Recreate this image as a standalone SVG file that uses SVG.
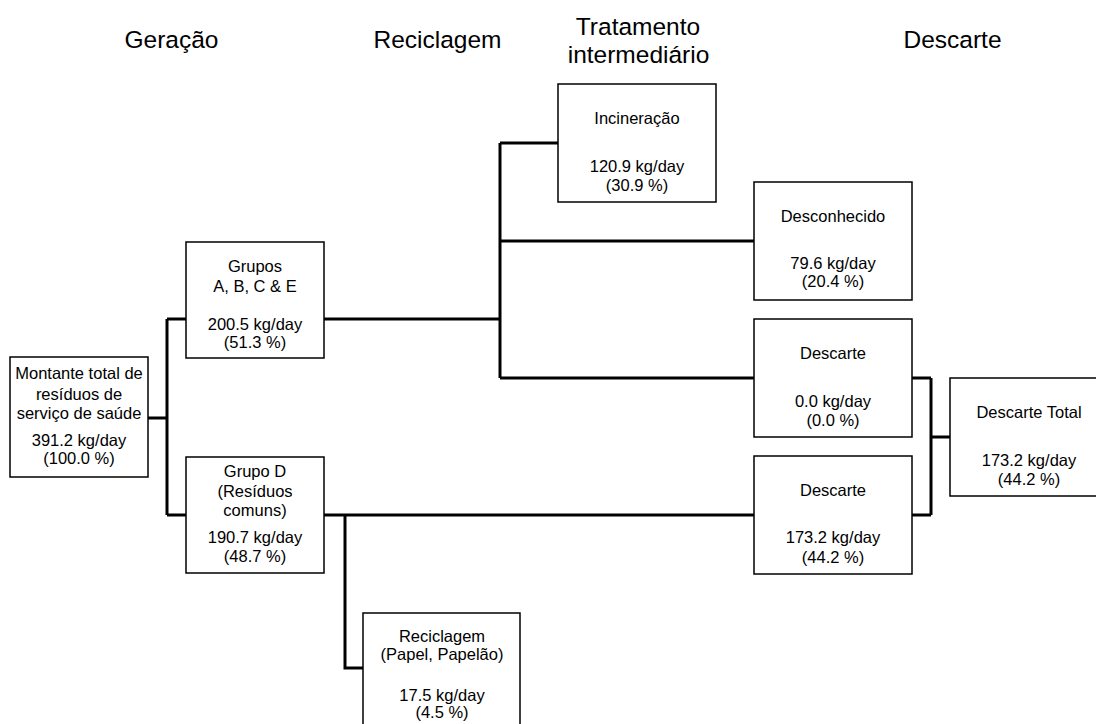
<svg xmlns="http://www.w3.org/2000/svg" width="1096" height="724" viewBox="0 0 1096 724">
<style>
.hdr{font-family:"Liberation Sans",Arial,sans-serif;font-size:24.5px;fill:#000;text-anchor:middle}
.t{font-family:"Liberation Sans",Arial,sans-serif;font-size:16.5px;fill:#000;text-anchor:middle}
.box{fill:#fff;stroke:#000;stroke-width:1.5}
.c{fill:none;stroke:#000;stroke-width:3}
</style>
<rect width="1096" height="724" fill="#fff"/>
<g id="headers">
<text class="hdr" x="171.5" y="48">Geração</text>
<text class="hdr" x="437.5" y="48">Reciclagem</text>
<text class="hdr" x="638" y="35">Tratamento</text>
<text class="hdr" x="638.5" y="63">intermediário</text>
<text class="hdr" x="952.5" y="48">Descarte</text>
</g>
<g id="connectors">
<path class="c" d="M148,418 H167 M167,319 V515 M167,319 H186 M167,515 H186"/>
<path class="c" d="M324,319 H500 M500,143 V378 M500,143 H558 M500,241 H754 M500,378 H754"/>
<path class="c" d="M324,515 H754 M345,515 V668 H363"/>
<path class="c" d="M912,378 H931 M912,515 H931 M931,378 V515 M931,437 H950"/>
</g>
<g id="montante">
<rect class="box" x="10" y="357" width="138" height="120"/>
<text class="t" x="79" y="379">Montante total de</text>
<text class="t" x="79" y="400">resíduos de</text>
<text class="t" x="79" y="419">serviço de saúde</text>
<text class="t" x="79" y="446">391.2 kg/day</text>
<text class="t" x="79" y="464">(100.0 %)</text>
</g>
<g id="gruposABCE">
<rect class="box" x="186" y="242" width="138" height="116"/>
<text class="t" x="255" y="272">Grupos</text>
<text class="t" x="255" y="292">A, B, C &amp; E</text>
<text class="t" x="255" y="330">200.5 kg/day</text>
<text class="t" x="255" y="348">(51.3 %)</text>
</g>
<g id="grupoD">
<rect class="box" x="186" y="457" width="138" height="116"/>
<text class="t" x="255" y="477">Grupo D</text>
<text class="t" x="255" y="497">(Resíduos</text>
<text class="t" x="255" y="516">comuns)</text>
<text class="t" x="255" y="543">190.7 kg/day</text>
<text class="t" x="255" y="562">(48.7 %)</text>
</g>
<g id="incineracao">
<rect class="box" x="558" y="84" width="158" height="118"/>
<text class="t" x="637" y="124">Incineração</text>
<text class="t" x="637" y="172">120.9 kg/day</text>
<text class="t" x="637" y="191">(30.9 %)</text>
</g>
<g id="desconhecido">
<rect class="box" x="754" y="182" width="158" height="118"/>
<text class="t" x="833" y="222">Desconhecido</text>
<text class="t" x="833" y="269">79.6 kg/day</text>
<text class="t" x="833" y="287">(20.4 %)</text>
</g>
<g id="descarte1">
<rect class="box" x="754" y="319" width="158" height="118"/>
<text class="t" x="833" y="359">Descarte</text>
<text class="t" x="833" y="407">0.0 kg/day</text>
<text class="t" x="833" y="426">(0.0 %)</text>
</g>
<g id="descarte2">
<rect class="box" x="754" y="456" width="158" height="118"/>
<text class="t" x="833" y="496">Descarte</text>
<text class="t" x="833" y="543">173.2 kg/day</text>
<text class="t" x="833" y="563">(44.2 %)</text>
</g>
<g id="descarteTotal">
<rect class="box" x="950" y="378" width="160" height="118"/>
<text class="t" x="1029" y="418">Descarte Total</text>
<text class="t" x="1029" y="466">173.2 kg/day</text>
<text class="t" x="1029" y="485">(44.2 %)</text>
</g>
<g id="reciclagem">
<rect class="box" x="363" y="613" width="157" height="125"/>
<text class="t" x="442" y="642">Reciclagem</text>
<text class="t" x="442" y="660">(Papel, Papelão)</text>
<text class="t" x="442" y="701">17.5 kg/day</text>
<text class="t" x="442" y="718">(4.5 %)</text>
</g>
</svg>
